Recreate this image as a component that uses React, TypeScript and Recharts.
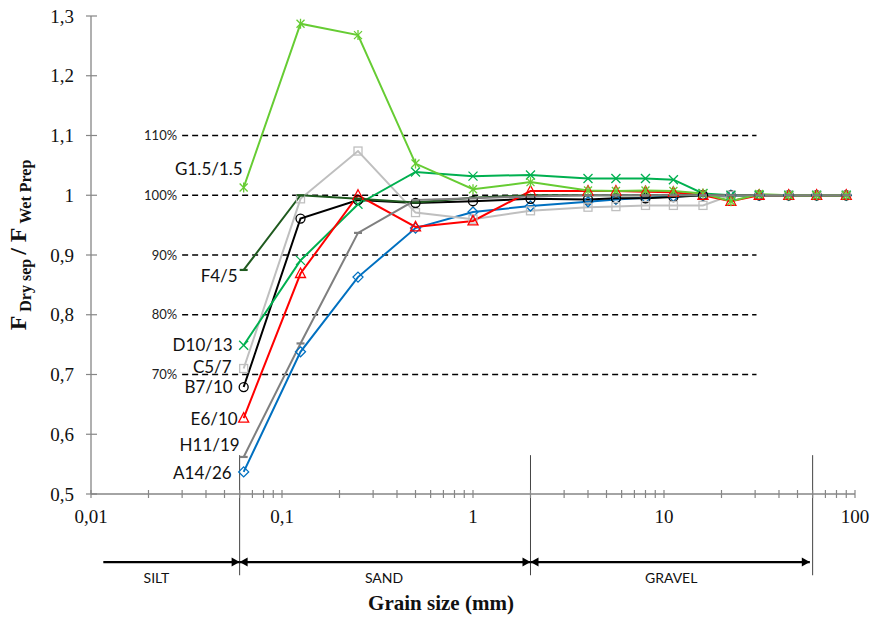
import { LineChart, Line, XAxis, YAxis, ReferenceLine, ReferenceDot } from "recharts";

// sieve sizes (mm)
const sieveSizes = [0.063, 0.125, 0.25, 0.5, 1, 2, 4, 5.6, 8, 11.2, 16, 22.4, 31.5, 45, 63, 90];

// F dry sep / F wet prep per sample
const a14_26 = [0.537, 0.738, 0.863, 0.945, 0.972, 0.982, 0.989, 0.993, 0.996, 0.998, 1.0, 1.0, 1.0, 1.0, 1.0, 1.0];
const b7_10 = [0.679, 0.961, 0.992, 0.987, 0.99, 0.994, 0.993, 0.995, 0.995, 0.997, 1.0, 1.0, 1.0, 1.0, 1.0, 1.0];
const c5_7 = [0.71, 0.994, 1.074, 0.971, 0.96, 0.974, 0.98, 0.981, 0.983, 0.983, 0.983, 1.0, 1.0, 1.0, 1.0, 1.0];
const d10_13 = [0.749, 0.891, 0.985, 1.039, 1.032, 1.034, 1.028, 1.028, 1.028, 1.026, 1.003, 1.0, 1.0, 1.0, 1.0, 1.0];
const e6_10 = [0.627, 0.869, 1.0, 0.947, 0.957, 1.007, 1.007, 1.007, 1.006, 1.005, 1.0, 0.99, 1.0, 1.0, 1.0, 1.0];
const f4_5 = [0.875, 1.0, 0.994, 0.988, 0.996, 1.0, 1.0, 1.0, 1.0, 1.0, 1.0, 1.0, 1.0, 1.0, 1.0, 1.0];
const g1_5 = [1.013, 1.287, 1.268, 1.053, 1.01, 1.022, 1.008, 1.007, 1.008, 1.007, 1.003, 0.99, 1.002, 1.0, 1.0, 1.0];
const h11_19 = [0.562, 0.752, 0.937, 0.992, 0.995, 0.998, 1.0, 1.0, 1.0, 1.0, 1.0, 1.0, 1.0, 1.0, 1.0, 1.0];

const xTicks = [
  0.01, 0.02, 0.03, 0.04, 0.05, 0.06, 0.07, 0.08, 0.09,
  0.1, 0.2, 0.3, 0.4, 0.5, 0.6, 0.7, 0.8, 0.9,
  1, 2, 3, 4, 5, 6, 7, 8, 9,
  10, 20, 30, 40, 50, 60, 70, 80, 90,
  100,
];
const xLabelValues = [0.01, 0.1, 1, 10, 100];
const xLabelTexts = ["0,01", "0,1", "1", "10", "100"];
const yTicks = [0.5, 0.6, 0.7, 0.8, 0.9, 1.0, 1.1, 1.2, 1.3];

const refLevels = [1.1, 1.0, 0.9, 0.8, 0.7];
const refLabels = ["110%", "100%", "90%", "80%", "70%"];

// silt / sand / gravel limits (mm)
const boundaries = [0.06, 2, 60];
const classNames = ["SILT", "SAND", "GRAVEL"];
const classFrom = [0.0116, 0.06, 2];
const classTo = [0.06, 2, 58];
const classLabelX = [0.022, 0.342, 10.9];

const data = sieveSizes.map((size, i) => ({
  size,
  a: a14_26[i],
  b: b7_10[i],
  c: c5_7[i],
  d: d10_13[i],
  e: e6_10[i],
  f: f4_5[i],
  g: g1_5[i],
  h: h11_19[i],
}));

type Marker = "diamond" | "circle" | "square" | "x" | "triangle" | "dash" | "star";

const series: { key: string; name: string; color: string; marker: Marker; dx: number; dy: number }[] = [
  { key: "a", name: "A14/26", color: "#0070c0", marker: "diamond", dx: -12, dy: 1 },
  { key: "b", name: "B7/10", color: "#000000", marker: "circle", dx: -11, dy: -1 },
  { key: "c", name: "C5/7", color: "#bfbfbf", marker: "square", dx: -12, dy: -2 },
  { key: "d", name: "D10/13", color: "#00b050", marker: "x", dx: -11, dy: -1 },
  { key: "e", name: "E6/10", color: "#ff0000", marker: "triangle", dx: -6, dy: 0 },
  { key: "f", name: "F4/5", color: "#1f5a1f", marker: "dash", dx: -6, dy: 6 },
  { key: "g", name: "G1.5/1.5", color: "#66cc33", marker: "star", dx: -1, dy: -19 },
  { key: "h", name: "H11/19", color: "#7f7f7f", marker: "dash", dx: -4, dy: -12 },
];

const serif = "'Liberation Serif', 'Times New Roman', serif";
const sans = "Lato, 'Noto Sans', sans-serif";
const axisColor = "#868686";

function drawMarker(m: Marker, cx: number, cy: number, color: string) {
  const common = { stroke: color, strokeWidth: 1.3, fill: "none" };
  switch (m) {
    case "diamond":
      return <polygon points={`${cx},${cy - 5} ${cx + 5},${cy} ${cx},${cy + 5} ${cx - 5},${cy}`} {...common} />;
    case "circle":
      return <circle cx={cx} cy={cy} r={4.5} {...common} />;
    case "square":
      return <rect x={cx - 4} y={cy - 4} width={8} height={8} {...common} />;
    case "triangle":
      return <polygon points={`${cx},${cy - 5.5} ${cx + 5},${cy + 4} ${cx - 5},${cy + 4}`} {...common} />;
    case "x":
      return (
        <g {...common}>
          <line x1={cx - 4.5} y1={cy - 4.5} x2={cx + 4.5} y2={cy + 4.5} />
          <line x1={cx - 4.5} y1={cy + 4.5} x2={cx + 4.5} y2={cy - 4.5} />
        </g>
      );
    case "star":
      return (
        <g {...common}>
          <line x1={cx - 4} y1={cy - 4} x2={cx + 4} y2={cy + 4} />
          <line x1={cx - 4} y1={cy + 4} x2={cx + 4} y2={cy - 4} />
          <line x1={cx} y1={cy - 5} x2={cx} y2={cy + 5} />
        </g>
      );
    case "dash":
    default:
      return <line x1={cx - 4} y1={cy} x2={cx + 4} y2={cy} stroke={color} strokeWidth={2.2} />;
  }
}

const makeDot = (s: (typeof series)[number]) => (props: any) => {
  const { cx, cy, index } = props;
  if (cx == null || cy == null) return <g key={`${s.key}-${index}`} />;
  return (
    <g key={`${s.key}-${index}`}>
      {drawMarker(s.marker, cx, cy, s.color)}
      {index === 0 && (
        <text
          x={cx + s.dx}
          y={cy + s.dy}
          textAnchor="end"
          dominantBaseline="central"
          fontFamily={sans}
          fontSize={17}
          fill="#111"
        >
          {s.name}
        </text>
      )}
    </g>
  );
};

const XTick = (props: any) => {
  const { x, y, payload } = props;
  const li = xLabelValues.findIndex((v) => Math.abs(v - payload.value) < 1e-9);
  return (
    <g>
      <line x1={x} x2={x} y1={y - 4} y2={y + 4} stroke={axisColor} strokeWidth={1.2} />
      {li >= 0 && (
        <text x={x} y={y + 29} textAnchor="middle" fontFamily={serif} fontSize={19} fill="#111">
          {xLabelTexts[li]}
        </text>
      )}
    </g>
  );
};

const YTick = (props: any) => {
  const { x, y, payload } = props;
  const label = String(payload.value).replace(".", ",");
  return (
    <g>
      <line x1={x - 5} x2={x + 6} y1={y} y2={y} stroke={axisColor} strokeWidth={1.2} />
      <text x={x - 17} y={y + 6.5} textAnchor="end" fontFamily={serif} fontSize={19} fill="#111">
        {label}
      </text>
    </g>
  );
};

const Arrow = (props: any) => {
  const { x1, y1, x2, left, right } = props;
  const h = 8;
  const w = 4.5;
  return (
    <g>
      <line x1={x1} y1={y1} x2={x2} y2={y1} stroke="#000" strokeWidth={2.4} />
      {right && <polygon points={`${x2},${y1} ${x2 - h},${y1 - w} ${x2 - h},${y1 + w}`} fill="#000" />}
      {left && <polygon points={`${x1},${y1} ${x1 + h},${y1 - w} ${x1 + h},${y1 + w}`} fill="#000" />}
    </g>
  );
};

const YTitle = () => {
  const cx = 26;
  const cy = 245;
  return (
    <text
      x={cx}
      y={cy}
      transform={`rotate(-90 ${cx} ${cy})`}
      textAnchor="middle"
      fontFamily={serif}
      fontWeight="bold"
      fill="#111"
    >
      <tspan fontSize={24}>F</tspan>
      <tspan fontSize={16} dy={5}> Dry sep </tspan>
      <tspan fontSize={24} dy={-5}>/ F</tspan>
      <tspan fontSize={16} dy={5}> Wet Prep</tspan>
    </text>
  );
};

const XTitle = (props: any) => {
  const vb = props.viewBox || {};
  return (
    <text
      x={vb.x + vb.width / 2 - 32}
      y={vb.y + 116}
      textAnchor="middle"
      fontFamily={serif}
      fontWeight="bold"
      fontSize={21}
      fill="#111"
    >
      Grain size (mm)
    </text>
  );
};

export default function App() {
  return (
    <div style={{ position: "absolute", left: 0, top: 0, background: "#fff" }}>
      <LineChart width={882} height={618} data={data} margin={{ top: 16, right: 27, left: 31, bottom: 94 }}>
        <XAxis
          dataKey="size"
          type="number"
          scale="log"
          domain={[0.01, 100]}
          allowDataOverflow
          ticks={xTicks}
          interval={0}
          tick={<XTick />}
          tickLine={false}
          tickSize={0}
          tickMargin={0}
          height={30}
          axisLine={{ stroke: axisColor, strokeWidth: 1.3 }}
          label={<XTitle />}
        />
        <YAxis
          type="number"
          domain={[0.5, 1.3]}
          ticks={yTicks}
          interval={0}
          tick={<YTick />}
          tickLine={false}
          tickSize={0}
          tickMargin={0}
          width={60}
          axisLine={{ stroke: axisColor, strokeWidth: 1.3 }}
          label={<YTitle />}
        />
        {refLevels.map((lv, i) => (
          <ReferenceLine
            key={`lvl-${lv}`}
            segment={[
              { x: 0.03, y: lv },
              { x: 30.5, y: lv },
            ]}
            stroke="#000"
            strokeWidth={1.3}
            strokeDasharray="6 4"
            ifOverflow="visible"
            label={{ value: refLabels[i], position: "left", offset: 5, fontSize: 13, fill: "#222", fontFamily: sans }}
          />
        ))}
        {boundaries.map((b) => (
          <ReferenceLine
            key={`bnd-${b}`}
            segment={[
              { x: b, y: 0.565 },
              { x: b, y: 0.364 },
            ]}
            stroke="#444"
            strokeWidth={1}
            ifOverflow="visible"
          />
        ))}
        {classNames.map((name, i) => (
          <ReferenceLine
            key={`cls-${name}`}
            segment={[
              { x: classFrom[i], y: 0.386 },
              { x: classTo[i], y: 0.386 },
            ]}
            ifOverflow="visible"
            shape={(p: any) => <Arrow {...p} left={i > 0} right />}
          />
        ))}
        {classNames.map((name, i) => (
          <ReferenceDot
            key={`clsl-${name}`}
            x={classLabelX[i]}
            y={0.3595}
            r={0}
            stroke="none"
            fill="none"
            ifOverflow="visible"
            label={{ value: name, position: "center", fontSize: 14, fill: "#111", fontFamily: sans }}
          />
        ))}
        {series.map((s) => (
          <Line
            key={s.key}
            type="linear"
            dataKey={s.key}
            name={s.name}
            stroke={s.color}
            strokeWidth={2}
            dot={makeDot(s)}
            activeDot={false}
            isAnimationActive={false}
          />
        ))}
      </LineChart>
    </div>
  );
}
